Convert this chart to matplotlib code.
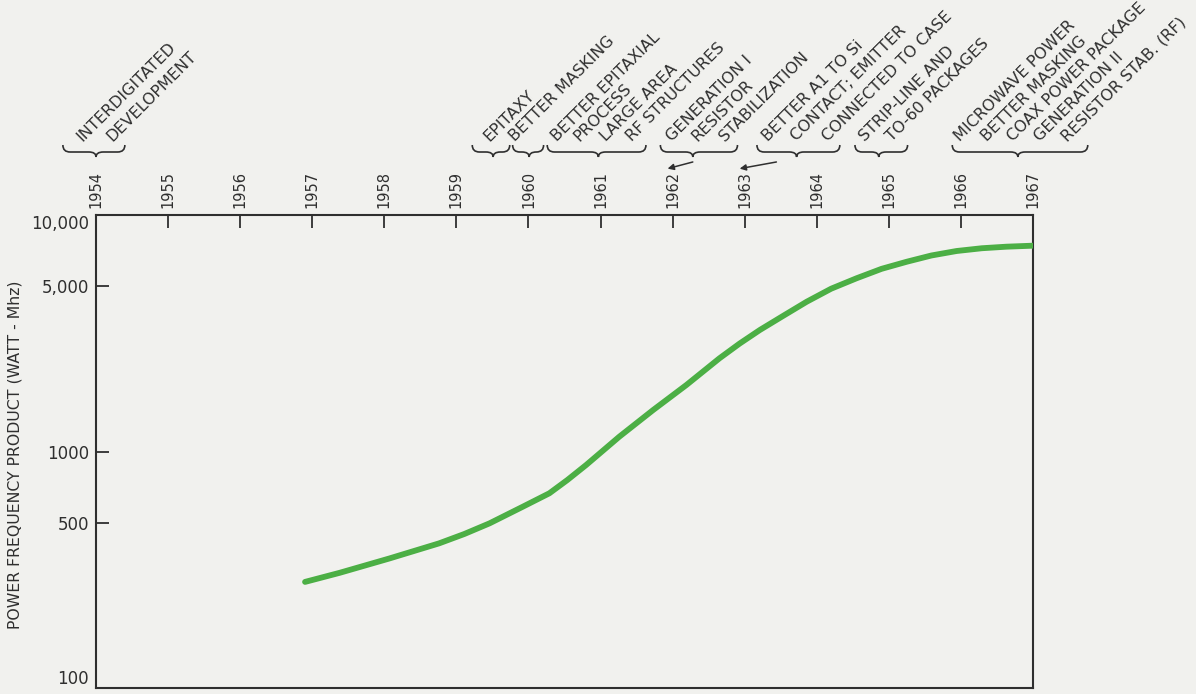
import numpy as np
import matplotlib.pyplot as plt
from matplotlib.path import Path
from matplotlib.patches import PathPatch
import matplotlib.transforms as mtransforms

# curve (year, watt-MHz)
years = [1956.90, 1957.38, 1958.07, 1958.76, 1959.11, 1959.46, 1959.92, 1960.29,
         1960.54, 1960.80, 1961.26, 1961.73, 1962.19, 1962.65, 1962.93, 1963.21,
         1963.53, 1963.86, 1964.20, 1964.55, 1964.90, 1965.25, 1965.59, 1965.94,
         1966.29, 1966.63, 1967.00]
pfp = [281, 307, 353, 409, 448, 497, 584, 666,
       758, 877, 1155, 1498, 1910, 2478, 2861, 3264,
       3740, 4298, 4880, 5398, 5922, 6346, 6742, 7043,
       7235, 7345, 7418]

year_ticks = list(range(1954, 1968))
y_ticks = [100, 500, 1000, 5000, 10000]
y_tick_labels = ["100", "500", "1000", "5,000", "10,000"]

# milestone notes above the time axis
notes = [
    ["INTERDIGITATED", "DEVELOPMENT"],
    ["EPITAXY"],
    ["BETTER MASKING"],
    ["BETTER EPITAXIAL", "PROCESS", "LARGE AREA", "RF STRUCTURES"],
    ["GENERATION I", "RESISTOR", "STABILIZATION"],
    ["BETTER A1 TO Si", "CONTACT; EMITTER", "CONNECTED TO CASE"],
    ["STRIP-LINE AND", "TO-60 PACKAGES"],
    ["MICROWAVE POWER", "BETTER MASKING", "COAX POWER PACKAGE",
     "GENERATION II", "RESISTOR STAB. (RF)"],
]

# layout of the notes (in years along the axis)
note_x = [
    [1953.81, 1954.22],
    [1959.46],
    [1959.81],
    [1960.39, 1960.71, 1961.08, 1961.44],
    [1961.99, 1962.35, 1962.72],
    [1963.32, 1963.72, 1964.15],
    [1964.67, 1965.04],
    [1965.99, 1966.36, 1966.72, 1967.10, 1967.47],
]
brace_span = [(1953.54, 1954.0, 1954.40), (1959.22, 1959.51, 1959.74),
              (1959.78, 1960.01, 1960.21), (1960.26, 1960.97, 1961.63),
              (1961.83, 1962.28, 1962.90), (1963.17, 1963.72, 1964.32),
              (1964.53, 1964.86, 1965.26), (1965.88, 1966.79, 1967.76)]
arrows = [((1962.28, 0.7666), (1961.93, 0.757)),
          ((1963.44, 0.7666), (1962.93, 0.757))]

ink = "#2f2f2f"
paper = "#f1f1ee"
green = "#4caf45"

fig = plt.figure(figsize=(11.96, 6.94), dpi=100, facecolor=paper)
ax = fig.add_axes([0.0803, 0.0086, 0.7834, 0.6816])
ax.set_facecolor(paper)

ax.plot(years, pfp, color=green, lw=4.2, solid_capstyle="round",
        solid_joinstyle="round", zorder=3)

ax.set_yscale("log")
ax.set_ylim(100, 10000)
ax.set_xlim(1954, 1967)
ax.set_yticks(y_ticks)
ax.set_yticklabels(y_tick_labels)
ax.yaxis.set_minor_locator(plt.NullLocator())
ax.set_xticks(year_ticks)
ax.set_xticklabels([str(y) for y in year_ticks], rotation=90)

ax.tick_params(axis="x", top=True, bottom=False, labeltop=True, labelbottom=False,
               direction="in", length=9, width=1.3, pad=5, labelsize=10.5,
               color=ink, labelcolor=ink)
ax.tick_params(axis="y", left=True, right=False, direction="in", length=9,
               width=1.3, pad=5, labelsize=12, color=ink, labelcolor=ink)
ylabels = ax.get_yticklabels()
ylabels[0].set_va("bottom")
ylabels[-1].set_va("top")
for s in ax.spines.values():
    s.set_color(ink)
    s.set_linewidth(1.5)

fig.text(15 / 1196, 1 - 455 / 694, "POWER FREQUENCY PRODUCT (WATT - Mhz)",
         rotation=90, ha="center", va="center", fontsize=11.3, color=ink)

blend = mtransforms.blended_transform_factory(ax.transData, fig.transFigure)

# braces
yb, yh, yc, e = 1 - 152 / 694, 1 - 145 / 694, 1 - 157 / 694, 0.1
for x0, xc, x1 in brace_span:
    verts = [(x0, yh), (x0, yb), (x0 + e, yb), (xc - e, yb), (xc, yb), (xc, yc),
             (xc, yb), (xc + e, yb), (x1 - e, yb), (x1, yb), (x1, yh)]
    codes = [Path.MOVETO, Path.CURVE3, Path.CURVE3, Path.LINETO, Path.CURVE3,
             Path.CURVE3, Path.CURVE3, Path.CURVE3, Path.LINETO, Path.CURVE3,
             Path.CURVE3]
    ax.add_patch(PathPatch(Path(verts, codes), transform=blend, fill=False,
                           edgecolor=ink, lw=1.2, clip_on=False))

# slanted milestone text
ty = 1 - 142 / 694
for lines, xs in zip(notes, note_x):
    for s, x in zip(lines, xs):
        ax.text(x, ty, s, transform=blend, rotation=45, rotation_mode="anchor",
                ha="left", va="baseline", fontsize=11.5, color=ink, clip_on=False)

for start, end in arrows:
    ax.annotate("", xy=end, xytext=start, xycoords=blend, textcoords=blend,
                arrowprops=dict(arrowstyle="-|>", color=ink, lw=1.1,
                                mutation_scale=9, shrinkA=0, shrinkB=0))

fig.savefig("out.png", dpi=100, facecolor=paper)
